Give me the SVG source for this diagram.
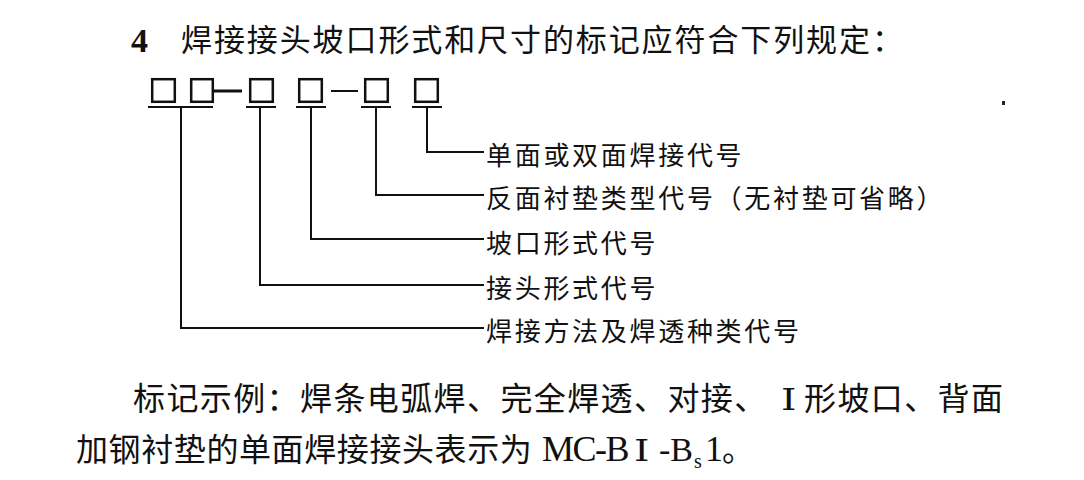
<svg xmlns="http://www.w3.org/2000/svg" width="1084" height="480" viewBox="0 0 1084 480">
<style>
.cjk{font-family:"Noto Sans CJK SC","Noto Sans CJK JP",sans-serif;fill:#111}
.lbl{font-size:26px;letter-spacing:2.7px}
.box{fill:none;stroke:#111;stroke-width:2.5}
.ul{stroke:#111;stroke-width:2}
.conn{fill:none;stroke:#111;stroke-width:2}
.ser{font-family:"Liberation Serif","Times New Roman",serif;fill:#111}
.rom{font-family:"DejaVu Serif","Liberation Serif",serif;fill:#111;font-size:30px}
</style>
<rect width="1084" height="480" fill="#ffffff"/>
<g id="title">
<text x="131" y="52" class="ser" font-size="34" font-weight="bold">4</text>
<text x="181" y="51" class="cjk" font-size="31" letter-spacing="1.9">焊接接头坡口形式和尺寸的标记应符合下列规定：</text>
</g>
<g id="code">
<g id="box1"><rect class="box" x="152.2" y="79.2" width="22.6" height="22.6"/></g>
<g id="box2"><rect class="box" x="191.2" y="79.2" width="21.6" height="22.6"/></g>
<g id="box3"><rect class="box" x="250.2" y="79.2" width="22.6" height="22.6"/></g>
<g id="box4"><rect class="box" x="299.2" y="79.2" width="22.6" height="22.6"/></g>
<g id="box5"><rect class="box" x="365.2" y="79.2" width="22.6" height="22.6"/></g>
<g id="box6"><rect class="box" x="415.2" y="79.2" width="22.6" height="22.6"/></g>
<line x1="214" y1="91" x2="242" y2="91" stroke="#111" stroke-width="3"/>
<line x1="331" y1="91" x2="358" y2="91" stroke="#111" stroke-width="2"/>
<line class="ul" x1="148" y1="107" x2="213" y2="107"/>
<line class="ul" x1="246" y1="107" x2="276" y2="107"/>
<line class="ul" x1="296" y1="107" x2="326" y2="107"/>
<line class="ul" x1="361" y1="107" x2="391" y2="107"/>
<line class="ul" x1="412" y1="107" x2="442" y2="107"/>
</g>
<g id="connectors">
<polyline class="conn" points="427,107 427,152 484,152"/>
<polyline class="conn" points="376,107 376,195 484,195"/>
<polyline class="conn" points="311,107 311,239 484,239" stroke-width="2.4"/>
<polyline class="conn" points="260,107 260,285 484,285"/>
<polyline class="conn" points="181,107 181,328 484,328"/>
</g>
<g id="label1"><text x="486" y="165" class="cjk lbl">单面或双面焊接代号</text></g>
<g id="label2"><text x="486" y="208" class="cjk lbl">反面衬垫类型代号（无衬垫可省略）</text></g>
<g id="label3"><text x="486" y="253" class="cjk lbl">坡口形式代号</text></g>
<g id="label4"><text x="486" y="298" class="cjk lbl">接头形式代号</text></g>
<g id="label5"><text x="486" y="341" class="cjk lbl">焊接方法及焊透种类代号</text></g>
<g id="example">
<text y="410" font-size="32"><tspan x="133" class="cjk" letter-spacing="1.4">标记示例：焊条电弧焊、完全焊透、对接、</tspan><tspan x="804" class="cjk" letter-spacing="1.4">形坡口、背面</tspan></text>
<text class="rom" transform="translate(781,410) scale(1.3,1)">Ⅰ</text>
<text y="461" font-size="32"><tspan x="76" class="cjk" letter-spacing="0.6">加钢衬垫的单面焊接接头表示为</tspan><tspan x="542" class="ser" font-size="36" letter-spacing="-1.5">MC-B</tspan><tspan x="659" class="ser" font-size="34">-B</tspan><tspan x="705" class="ser" font-size="36">1</tspan><tspan x="722" class="cjk">。</tspan></text>
<text class="rom" transform="translate(634,461) scale(1.3,1)">Ⅰ</text>
<text x="694" y="468" class="ser" font-size="20">s</text>
</g>
<rect x="1002" y="101" width="3" height="4" fill="#222"/>
</svg>
